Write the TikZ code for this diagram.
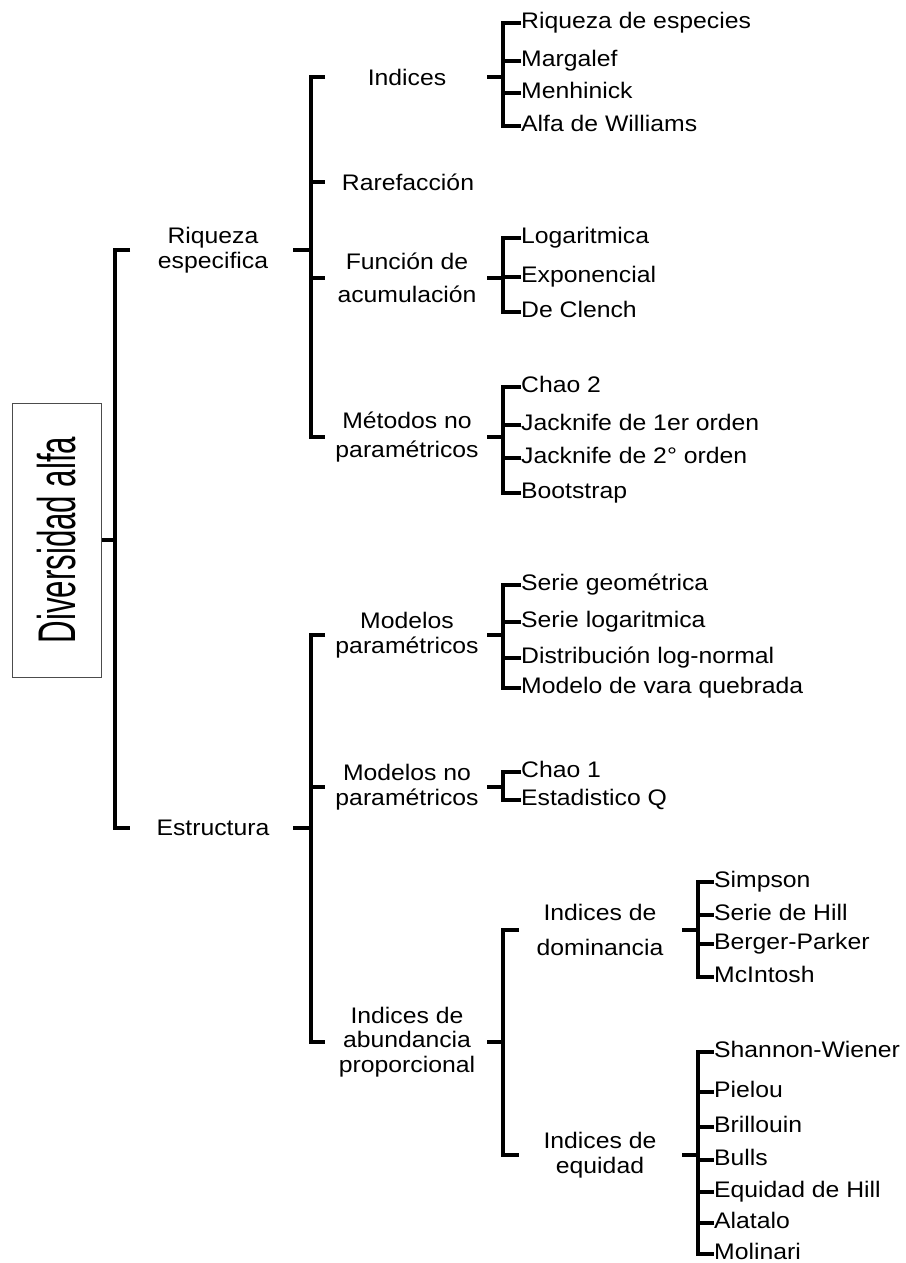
\documentclass[tikz,border=0pt]{standalone}
\usepackage{fontspec}
\setmainfont{Liberation Sans}[FakeStretch=1.10]
\newfontfamily\narrowfont{Liberation Sans}[FakeStretch=0.59]
\begin{document}
\begin{tikzpicture}[x=1pt,y=-1pt,
  br/.style={line width=4.5pt, line cap=butt, line join=miter},
  lbl/.style={inner sep=0pt, font=\fontsize{22.5}{24.5}\selectfont, align=center},
  leaf/.style={inner sep=0pt, font=\fontsize{22.5}{24.5}\selectfont, anchor=west, text height=16pt, text depth=5pt}]
\useasboundingbox (0,0) rectangle (905,1263);
% guide coordinates (x positions of bars and tick ends)
\coordinate (b1) at (115,0); \coordinate (t1) at (130,0);
\coordinate (o1) at (293,0); \coordinate (b2) at (311,0); \coordinate (t2) at (325,0);
\coordinate (o2) at (487,0); \coordinate (b3) at (503,0);
\coordinate (o3) at (682,0); \coordinate (b4) at (698,0);
% root
\node[draw=black!70, line width=1pt, minimum width=274pt, minimum height=89pt, rotate=90, inner sep=0pt,
      font=\narrowfont\fontsize{53}{53}\selectfont] (root) at (56.5,540) {Diversidad alfa};
% level 1
\node[lbl] (rq) at (213,250) {Riqueza\\especifica};
\node[lbl] (es) at (213,828) {Estructura};
% level 2
\node[lbl] (ind) at (407,77) {Indices};
\node[lbl] (rar) at (408,182) {Rarefacción};
\node[lbl] (fun) at (407,278) {Función de\\[8.5pt]acumulación};
\node[lbl] (met) at (407,437) {Métodos no\\[4.5pt]paramétricos};
\node[lbl] (mp) at (407,635) {Modelos\\paramétricos};
\node[lbl] (mnp) at (407,787) {Modelos no\\paramétricos};
\node[lbl] (iap) at (407,1042) {Indices de\\abundancia\\proporcional};
% level 3
\node[lbl] (dom) at (600,930) {Indices de\\[10.5pt]dominancia};
\node[lbl] (equ) at (600,1155) {Indices de\\equidad};
% leaves
\node[leaf] (i1) at (521,23) {Riqueza de especies};
\node[leaf] (i2) at (521,61) {Margalef};
\node[leaf] (i3) at (521,93) {Menhinick};
\node[leaf] (i4) at (521,126) {Alfa de Williams};
\node[leaf] (f1) at (521,238) {Logaritmica};
\node[leaf] (f2) at (521,277) {Exponencial};
\node[leaf] (f3) at (521,312) {De Clench};
\node[leaf] (m1) at (521,387) {Chao 2};
\node[leaf] (m2) at (521,425) {Jacknife de 1er orden};
\node[leaf] (m3) at (521,458) {Jacknife de 2° orden};
\node[leaf] (m4) at (521,493) {Bootstrap};
\node[leaf] (p1) at (521,585) {Serie geométrica};
\node[leaf] (p2) at (521,622) {Serie logaritmica};
\node[leaf] (p3) at (521,658) {Distribución log-normal};
\node[leaf] (p4) at (521,688) {Modelo de vara quebrada};
\node[leaf] (n1) at (521,772) {Chao 1};
\node[leaf] (n2) at (521,800) {Estadistico Q};
\node[leaf] (d1) at (714,882) {Simpson};
\node[leaf] (d2) at (714,915) {Serie de Hill};
\node[leaf] (d3) at (714,944) {Berger-Parker};
\node[leaf] (d4) at (714,977) {McIntosh};
\node[leaf] (e1) at (714,1052) {Shannon-Wiener};
\node[leaf] (e2) at (714,1092) {Pielou};
\node[leaf] (e3) at (714,1127) {Brillouin};
\node[leaf] (e4) at (714,1160) {Bulls};
\node[leaf] (e5) at (714,1192) {Equidad de Hill};
\node[leaf] (e6) at (714,1223) {Alatalo};
\node[leaf] (e7) at (714,1254) {Molinari};
% connectors: level 1
\draw[br] (root.south) -- (b1 |- root.south);
\draw[br] (t1 |- rq) -- (b1 |- rq) -- (b1 |- es) -- (t1 |- es);
% level 2
\draw[br] (o1 |- rq) -- (b2 |- rq);
\draw[br] (t2 |- ind) -- (b2 |- ind) -- (b2 |- met) -- (t2 |- met);
\draw[br] (b2 |- rar) -- (t2 |- rar);
\draw[br] (b2 |- fun) -- (t2 |- fun);
\draw[br] (o1 |- es) -- (b2 |- es);
\draw[br] (t2 |- mp) -- (b2 |- mp) -- (b2 |- iap) -- (t2 |- iap);
\draw[br] (b2 |- mnp) -- (t2 |- mnp);
% Indices leaves
\draw[br] (o2 |- ind) -- (b3 |- ind);
\draw[br] (i1.west) -- (b3 |- i1.west) -- (b3 |- i4.west) -- (i4.west);
\draw[br] (b3 |- i2.west) -- (i2.west);
\draw[br] (b3 |- i3.west) -- (i3.west);
% Funcion leaves
\draw[br] (o2 |- fun) -- (b3 |- fun);
\draw[br] (f1.west) -- (b3 |- f1.west) -- (b3 |- f3.west) -- (f3.west);
\draw[br] (b3 |- f2.west) -- (f2.west);
% Metodos leaves
\draw[br] (o2 |- met) -- (b3 |- met);
\draw[br] (m1.west) -- (b3 |- m1.west) -- (b3 |- m4.west) -- (m4.west);
\draw[br] (b3 |- m2.west) -- (m2.west);
\draw[br] (b3 |- m3.west) -- (m3.west);
% Modelos parametricos leaves
\draw[br] (o2 |- mp) -- (b3 |- mp);
\draw[br] (p1.west) -- (b3 |- p1.west) -- (b3 |- p4.west) -- (p4.west);
\draw[br] (b3 |- p2.west) -- (p2.west);
\draw[br] (b3 |- p3.west) -- (p3.west);
% Modelos no parametricos leaves
\draw[br] (o2 |- mnp) -- (b3 |- mnp);
\draw[br] (n1.west) -- (b3 |- n1.west) -- (b3 |- n2.west) -- (n2.west);
% abundancia proporcional
\draw[br] (o2 |- iap) -- (b3 |- iap);
\draw[br] (dom.west -| 519,0) -- (b3 |- dom) -- (b3 |- equ) -- (equ.west -| 519,0);
% dominancia leaves
\draw[br] (o3 |- dom) -- (b4 |- dom);
\draw[br] (d1.west) -- (b4 |- d1.west) -- (b4 |- d4.west) -- (d4.west);
\draw[br] (b4 |- d2.west) -- (d2.west);
\draw[br] (b4 |- d3.west) -- (d3.west);
% equidad leaves
\draw[br] (o3 |- equ) -- (b4 |- equ);
\draw[br] (e1.west) -- (b4 |- e1.west) -- (b4 |- e7.west) -- (e7.west);
\draw[br] (b4 |- e2.west) -- (e2.west);
\draw[br] (b4 |- e3.west) -- (e3.west);
\draw[br] (b4 |- e4.west) -- (e4.west);
\draw[br] (b4 |- e5.west) -- (e5.west);
\draw[br] (b4 |- e6.west) -- (e6.west);
\end{tikzpicture}
\end{document}
